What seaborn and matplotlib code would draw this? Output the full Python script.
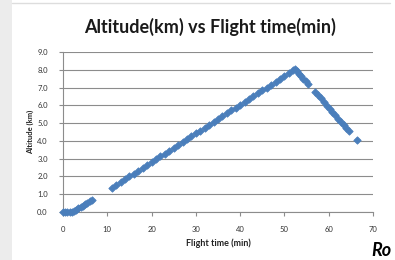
import matplotlib
matplotlib.use("Agg")
import matplotlib.pyplot as plt
import seaborn as sns
import pandas as pd
from matplotlib.patches import Rectangle

# flight log readings (minutes, km)
climb_start_time = [0.0, 0.5, 1.0, 1.5, 2.0, 2.5, 3.0, 3.5, 4.0, 4.5, 5.0, 5.5, 6.0, 6.5]
climb_start_alt = [0.0, 0.0, 0.0, 0.0, 0.02, 0.05, 0.12, 0.2, 0.28, 0.36, 0.45, 0.53, 0.62, 0.7]

climb_time = [11, 12, 13, 14, 15, 16, 17, 18, 19, 20, 21, 22, 23, 24, 25, 26, 27, 28, 29, 30,
              31, 32, 33, 34, 35, 36, 37, 38, 39, 40, 41, 42, 43, 44, 45, 46, 47, 48, 49, 50,
              51, 52, 52.4]
climb_alt = [1.35, 1.51, 1.67, 1.84, 2.00, 2.16, 2.32, 2.48, 2.64, 2.80, 2.96, 3.13, 3.29, 3.45,
             3.61, 3.77, 3.93, 4.09, 4.26, 4.42, 4.58, 4.74, 4.90, 5.06, 5.22, 5.38, 5.55, 5.71,
             5.87, 6.03, 6.19, 6.35, 6.51, 6.68, 6.84, 7.00, 7.16, 7.32, 7.48, 7.64, 7.80, 7.97,
             8.05]

descent_time = [52.8, 53.3, 53.8, 54.3, 54.8, 55.3, 57.0, 57.6, 58.2, 59.0, 59.6, 60.2, 60.8,
                61.4, 62.2, 62.8, 63.4, 64.0, 64.6, 66.4]
descent_alt = [7.93, 7.79, 7.65, 7.50, 7.36, 7.22, 6.74, 6.56, 6.39, 6.16, 5.99, 5.82, 5.65,
               5.48, 5.25, 5.08, 4.90, 4.73, 4.56, 4.04]

x_ticks = [0, 10, 20, 30, 40, 50, 60, 70]
y_ticks = [0, 1, 2, 3, 4, 5, 6, 7, 8, 9]

df = pd.DataFrame({
    "Flight time (min)": climb_start_time + climb_time + descent_time,
    "Altitude (km)": climb_start_alt + climb_alt + descent_alt,
})

sns.set_theme(style="white")
plt.rcParams["font.family"] = ["Lato", "DejaVu Sans"]

fig = plt.figure(figsize=(3.95, 2.6), dpi=100)
fig.patch.set_facecolor("white")
# slide background strip on the left and faint frame line on top
fig.patches.append(Rectangle((0, 0), 12 / 395, 1, transform=fig.transFigure,
                             facecolor="#ececec", edgecolor="none", zorder=0))
fig.add_artist(plt.Line2D([12 / 395, 390 / 395], [1 - 3 / 260, 1 - 3 / 260],
                          transform=fig.transFigure, color="#dddddd", lw=1))

ax = fig.add_axes([63 / 395, 1 - 212 / 260, 310 / 395, 160 / 260])
sns.scatterplot(data=df, x="Flight time (min)", y="Altitude (km)", ax=ax,
                marker="D", s=14, color="#4a7ebb", edgecolor="#4a7ebb", linewidth=0.6,
                zorder=3, clip_on=False)

ax.set_xlim(0, 70)
ax.set_ylim(0, 9)
ax.set_xticks(x_ticks)
ax.set_yticks(y_ticks)
ax.set_yticklabels([f"{v:.1f}" for v in y_ticks])
ax.yaxis.grid(True, color="#8c8c8c", lw=0.8)
ax.set_axisbelow(True)

for side in ["top", "right"]:
    ax.spines[side].set_visible(False)
for side in ["left", "bottom"]:
    ax.spines[side].set_color("#8c8c8c")
    ax.spines[side].set_linewidth(0.8)

ax.tick_params(axis="both", labelsize=5.5, colors="#333333", length=3, width=0.8,
               direction="out")
ax.tick_params(axis="x", pad=7)
ax.tick_params(axis="y", pad=8)
ax.tick_params(axis="both", color="#8c8c8c")
ax.xaxis.set_ticks_position("bottom")
ax.yaxis.set_ticks_position("left")

ax.set_xlabel("Flight time (min)", fontsize=6.5, fontweight="bold", color="#222222", labelpad=4)
ax.set_ylabel("Altitude (km)", fontsize=5.5, fontweight="bold", color="#222222", labelpad=2)

fig.text(210 / 395, 1 - 27 / 260, "Altitude(km) vs Flight time(min)", ha="center", va="center",
         fontsize=13, fontweight="bold", color="#1a1a1a")
fig.text(371 / 395, 0.005, "Ro", ha="left", va="bottom", fontsize=13,
         fontweight="bold", fontstyle="italic", color="black")

fig.savefig("out.png", dpi=100)
